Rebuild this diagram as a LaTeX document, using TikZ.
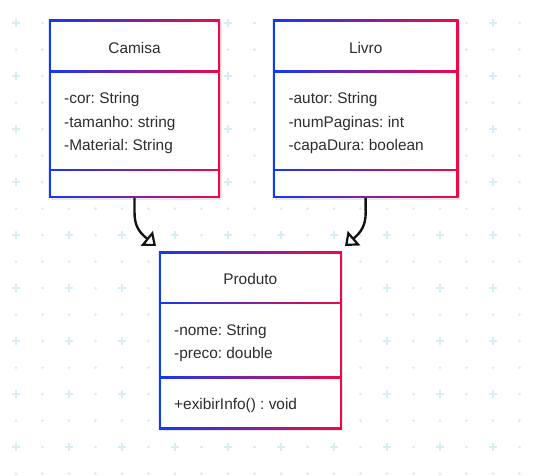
\documentclass[tikz,border=0pt]{standalone}
\usepackage{fontspec}
\setmainfont{Liberation Sans}
\usetikzlibrary{arrows.meta}
\definecolor{cblue}{RGB}{16,58,245}
\definecolor{cred}{RGB}{240,8,72}
\definecolor{gridc}{RGB}{214,238,243}
\definecolor{txtc}{RGB}{45,45,45}
\frenchspacing
\newcommand\classbox[7]{% #1 name, #2 x1, #3 y1, #4 x2, #5 y2, #6 divider1, #7 divider2
  \fill[black!9] (#2+1,#3+2) rectangle (#4+2.5,#5+3);
  \shade[left color=cblue,right color=cred] (#2-1.2,#3-1.2) rectangle (#4+1.2,#5+1.2);
  \fill[white] (#2+1.2,#3+1.2) rectangle (#4-1.2,#6-1.2);
  \fill[white] (#2+1.2,#6+1.2) rectangle (#4-1.2,#7-1.2);
  \fill[white] (#2+1.2,#7+1.2) rectangle (#4-1.2,#5-1.2);
  \coordinate (#1-s) at ({(#2+#4)/2},#5+1.2);
}
\begin{document}
\begin{tikzpicture}[x=1pt,y=-1pt,
  txt/.style={font=\fontsize{15.4}{18}\selectfont, text=txtc, inner sep=0pt},
  conn/.style={draw=black!92, line width=2.4pt, -{Triangle[open, length=12pt, width=19pt, line width=2.2pt]}},
  plusmark/.style={draw=gridc, line width=1.7pt},
  dotmark/.style={fill=gridc}]
\useasboundingbox (0,0) rectangle (533,475);
\fill[white] (0,0) rectangle (533,475);
% background grid
\foreach \j in {0,...,8} {
  \foreach \i in {0,...,9} {
    \pgfmathsetmacro\px{16+53*\i}
    \pgfmathsetmacro\py{23+53*\j}
    \draw[plusmark] (\px-4,\py) -- (\px+4,\py) (\px,\py-4) -- (\px,\py+4);
    \fill[dotmark] (\px+26.5,\py) circle (1.5);
  }
  \foreach \i in {0,...,19} {
    \pgfmathsetmacro\qx{16+26.5*\i}
    \pgfmathsetmacro\qy{49.5+53*\j}
    \fill[dotmark] (\qx,\qy) circle (1.5);
  }
}
% boxes
\classbox{camisa}{50}{20.7}{219}{196.7}{71.3}{170}
\classbox{livro}{274}{20.7}{457.3}{196.7}{71.3}{170}
\classbox{produto}{160}{252.7}{340.7}{428.3}{302.7}{377.3}
% Camisa
\node[txt, anchor=base] (camisa-title) at (134.5,53) {Camisa};
\node[txt, anchor=base west] (camisa-a1) at (64,103.5) {-cor: String};
\node[txt, anchor=base west] (camisa-a2) at (64,127) {-tamanho: string};
\node[txt, anchor=base west] (camisa-a3) at (64,150.3) {-Material: String};
% Livro
\node[txt, anchor=base] (livro-title) at (365.7,53) {Livro};
\node[txt, anchor=base west] (livro-a1) at (288.3,103.5) {-autor: String};
\node[txt, anchor=base west] (livro-a2) at (288.3,127) {-numPaginas: int};
\node[txt, anchor=base west] (livro-a3) at (288.3,150.3) {-capaDura: boolean};
% Produto
\node[txt, anchor=base] (produto-title) at (250.3,284.6) {Produto};
\node[txt, anchor=base west] (produto-a1) at (174,335.3) {-nome: String};
\node[txt, anchor=base west] (produto-a2) at (174,358.6) {-preco: double};
\node[txt, anchor=base west] (produto-m1) at (174,409.6) {+exibirInfo() : void};
% connectors
\coordinate (tipA) at (156,246);
\coordinate (tipB) at (345,246);
\draw[conn] (camisa-s) -- (134.5,212) .. controls (134.5,226) and (139,232) .. (tipA);
\draw[conn] (livro-s) -- (365.7,212) .. controls (365.7,226) and (361,232) .. (tipB);
\end{tikzpicture}
\end{document}
